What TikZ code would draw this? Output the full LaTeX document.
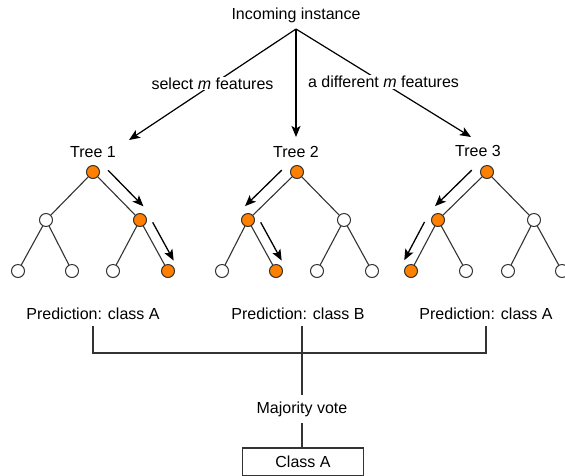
\documentclass[tikz,border=0pt]{standalone}
\usepackage{fontspec}
\setmainfont{Liberation Sans}
\usepackage{tikz}
\usetikzlibrary{arrows.meta, calc}
\definecolor{pathorange}{RGB}{255,128,0}
\definecolor{linegray}{RGB}{51,51,51}
\tikzset{>={Stealth[length=11pt, width=9pt, inset=2.5pt]}}
\tikzset{
	vertex/.style={circle, draw=linegray, line width=1pt, fill=white, minimum size=13pt, inner sep=0pt},
	chosen/.style={vertex, fill=pathorange},
	branch/.style={draw=linegray, line width=1.1pt},
	walk/.style={->, line width=1.3pt, black},
	txt/.style={font=\fontsize{16pt}{19pt}\selectfont, outer sep=3pt}
}
% arrow running beside the edge #1 -- #2, on side #3, at distance #4
\newcommand{\walkstep}[4]{\draw [walk] ($(#1)!0.14!(#2)!#4!#3:(#2)$) -- ($(#1)!0.89!(#2)!#4!#3:(#2)$);}

\begin{document}
\begin{tikzpicture}[x=1pt, y=-1pt]

			\useasboundingbox (0,0) rectangle (565,475);

			\node [txt] (inc) at (296,15) {Incoming instance};
			\coordinate (top) at (296,29);
			\coordinate (goto1) at (129,140);
			\coordinate (goto2) at (296,137);
			\coordinate (goto3) at (471,137);

			\draw [walk, line width=1.2pt] (top) -- node[txt, fill=white, inner sep=1pt, outer sep=0pt, yshift=1pt] {select \textit{m} features} (goto1);
			\draw [walk, line width=1.2pt] (top) -- (goto2);
			\draw [walk, line width=1.2pt] (top) -- node[txt, fill=white, inner sep=1pt, outer sep=0pt, yshift=1pt] {a different \textit{m} features} (goto3);

			\node [txt] (name1) at (93,152) {Tree 1};
			\node [txt] (name2) at (296,152) {Tree 2};
			\node [txt] (name3) at (478,151) {Tree 3};

			%tree 1
			\node [chosen] (t1-root) at (93,172) {};
			\node [vertex] (t1-l) at (46,220) {};
			\node [chosen] (t1-r) at (140,220) {};
			\node [vertex] (t1-ll) at (18,271) {};
			\node [vertex] (t1-lr) at (72,271) {};
			\node [vertex] (t1-rl) at (113,271) {};
			\node [chosen] (t1-rr) at (168,271) {};

			%tree 2
			\node [chosen] (t2-root) at (297,172) {};
			\node [chosen] (t2-l) at (248,220) {};
			\node [vertex] (t2-r) at (344,220) {};
			\node [vertex] (t2-ll) at (222,271) {};
			\node [chosen] (t2-lr) at (276,271) {};
			\node [vertex] (t2-rl) at (317,271) {};
			\node [vertex] (t2-rr) at (372,271) {};

			%tree 3
			\node [chosen] (t3-root) at (487,172) {};
			\node [chosen] (t3-l) at (438,220) {};
			\node [vertex] (t3-r) at (534,220) {};
			\node [chosen] (t3-ll) at (411,271) {};
			\node [vertex] (t3-lr) at (466,271) {};
			\node [vertex] (t3-rl) at (508,271) {};
			\node [vertex] (t3-rr) at (562,271) {};

			\foreach \t in {1,2,3} {
				\draw [branch] (t\t-root) -- (t\t-l);
				\draw [branch] (t\t-root) -- (t\t-r);
				\draw [branch] (t\t-l) -- (t\t-ll);
				\draw [branch] (t\t-l) -- (t\t-lr);
				\draw [branch] (t\t-r) -- (t\t-rl);
				\draw [branch] (t\t-r) -- (t\t-rr);
			}

			%decision paths
			\walkstep{t1-root}{t1-r}{90}{12pt}
			\walkstep{t1-r}{t1-rr}{90}{10pt}
			\walkstep{t2-root}{t2-l}{-90}{12pt}
			\walkstep{t2-l}{t2-lr}{90}{10pt}
			\walkstep{t3-root}{t3-l}{-90}{12pt}
			\walkstep{t3-l}{t3-ll}{-90}{11pt}

			\node [txt] (pred1) at (93,314) {Prediction: class A};
			\node [txt] (pred2) at (298,314) {Prediction: class B};
			\node [txt] (pred3) at (486,314) {Prediction: class A};

			\node [txt] (vote) at (302,409) {Majority vote};
			\node [txt, draw=linegray, line width=1.1pt, minimum width=121pt, minimum height=28pt, outer sep=0pt] (result) at (303,462) {Class A};

			\coordinate (join) at (302,353);
			\draw [branch] (pred1.south) |- (join) -| (pred3.south);
			\draw [branch] (vote.north |- pred2.south) -- (vote.north);
			\draw [branch] (vote.south) -- (vote.south |- result.north);

		\end{tikzpicture}
\end{document}
